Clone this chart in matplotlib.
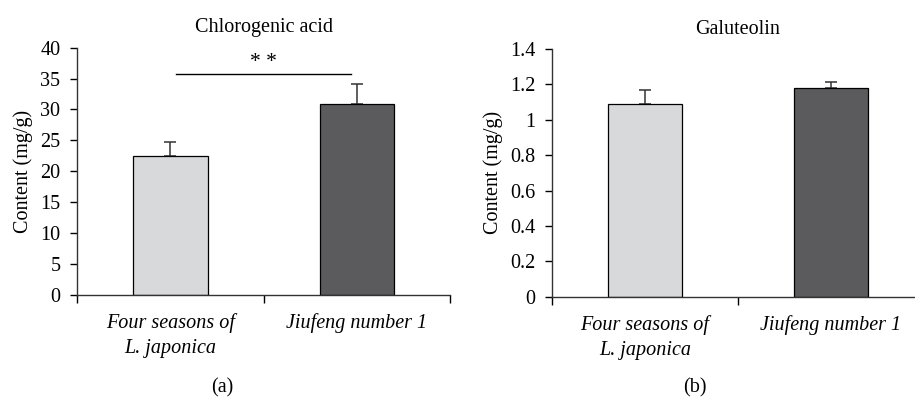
import numpy as np
import matplotlib
matplotlib.use("Agg")
import matplotlib.pyplot as plt

# data
cultivars = ["Four seasons of\nL. japonica", "Jiufeng number 1"]
chlorogenic = [22.4, 30.8]
chlorogenic_err = [2.3, 3.3]
galuteolin = [1.088, 1.178]
galuteolin_err = [0.082, 0.037]
colors = ["#d8d9db", "#5b5b5d"]

plt.rcParams['font.family'] = ['Liberation Serif', 'DejaVu Serif']
FS = 14.5

fig = plt.figure(figsize=(9.15, 3.99), dpi=100)
ax1 = fig.add_axes([0.0842, 0.2607, 0.4077, 0.620])
ax2 = fig.add_axes([0.6033, 0.2564, 0.4066, 0.6208])


def draw(ax, vals, errs, ylim, yticks, ylabels, title):
    x = np.arange(len(vals)) + 0.5
    ax.bar(x, vals, width=0.4, color=colors, edgecolor="black", linewidth=0.9, zorder=2)
    ax.errorbar(x, vals, yerr=[np.zeros(len(errs)), errs], fmt="none",
                ecolor="#333333", elinewidth=1.1, capsize=4.5, capthick=1.1, zorder=1)
    ax.set_xlim(0, 2)
    ax.set_ylim(*ylim)
    ax.set_yticks(yticks)
    ax.set_yticklabels(ylabels, fontsize=FS)
    ax.set_xticks([0, 1, 2])
    ax.set_xticklabels([])
    ax.set_xticks(x, minor=True)
    ax.set_xticklabels(cultivars, minor=True, fontsize=FS, style="italic", linespacing=1.45)
    ax.tick_params(axis="x", which="minor", length=0, pad=13)
    ax.tick_params(axis="x", which="major", length=6, width=1, direction="out")
    ax.tick_params(axis="y", length=5, width=1, direction="out", pad=7)
    for s in ["top", "right"]:
        ax.spines[s].set_visible(False)
    for s in ["left", "bottom"]:
        ax.spines[s].set_linewidth(1)
        ax.spines[s].set_color("#333333")
    ax.set_ylabel("Content (mg/g)", fontsize=FS, labelpad=5)
    ax.set_title(title, fontsize=FS, pad=11)


draw(ax1, chlorogenic, chlorogenic_err, (0, 40), np.arange(0, 41, 5),
     [str(v) for v in range(0, 41, 5)], "Chlorogenic acid")
gl_ticks = [0, 0.2, 0.4, 0.6, 0.8, 1.0, 1.2, 1.4]
draw(ax2, galuteolin, galuteolin_err, (0, 1.4), gl_ticks,
     ["0", "0.2", "0.4", "0.6", "0.8", "1", "1.2", "1.4"], "Galuteolin")

# significance marker
ax1.plot([0.53, 1.47], [35.8, 35.8], color="black", linewidth=1)
ax1.text(1.0, 36.0, "* *", ha="center", va="bottom", fontsize=FS + 1)

fig.text(222 / 915, 1 - 388 / 399, "(a)", ha="center", va="center", fontsize=FS)
fig.text(695 / 915, 1 - 388 / 399, "(b)", ha="center", va="center", fontsize=FS)

fig.savefig("out.png", dpi=100)
